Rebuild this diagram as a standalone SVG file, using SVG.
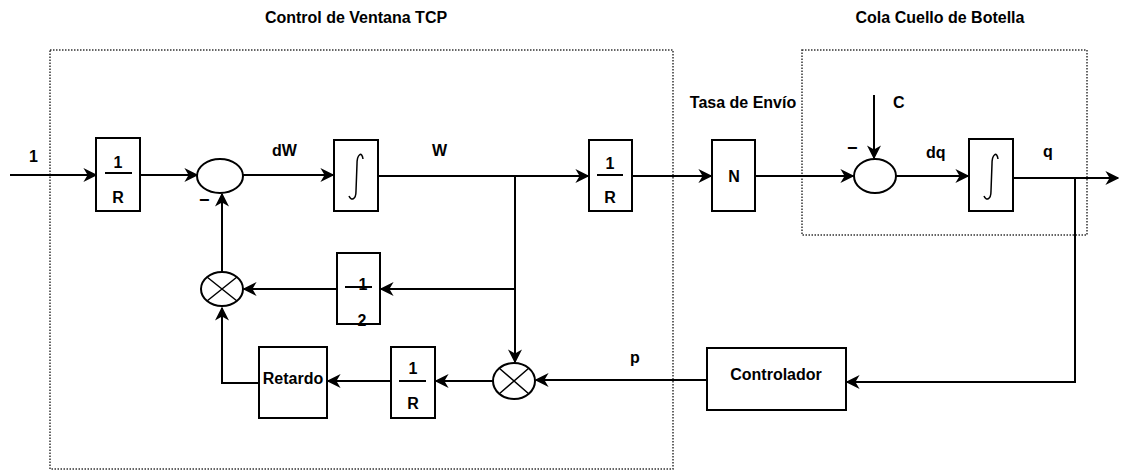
<svg xmlns="http://www.w3.org/2000/svg" width="1132" height="474" viewBox="0 0 1132 474">
<style>
text{font-family:"Liberation Sans",Arial,sans-serif;font-weight:bold;font-size:16px;fill:#000}
.b{fill:#fff;stroke:#000;stroke-width:2}
.c{fill:none;stroke:#000;stroke-width:2}
.d{fill:none;stroke:#333;stroke-width:1.5;stroke-dasharray:1.5 1.5}
.mid{text-anchor:middle}
</style>
<defs>
<marker id="ah" viewBox="0 0 10 10" refX="9" refY="5" markerWidth="7" markerHeight="7" markerUnits="strokeWidth" orient="auto">
<path d="M0,0 L10,5 L0,10 L3,5 Z" fill="#000"/>
</marker>
</defs>
<rect width="1132" height="474" fill="#fff"/>
<g id="boxes">
<rect id="tcp-region" class="d" x="50" y="50" width="623" height="419"/>
<rect id="queue-region" class="d" x="802" y="50" width="285" height="185"/>
<text class="mid" x="356" y="23">Control de Ventana TCP</text>
<text class="mid" x="940" y="23">Cola Cuello de Botella</text>
</g>
<g id="connectors" class="c" marker-end="url(#ah)">
<path d="M10,175 H96"/>
<path d="M140,175 H197"/>
<path d="M243,175 H333"/>
<path d="M378,176 H588"/>
<path d="M632,176 H711"/>
<path d="M755,176 H853"/>
<path d="M874,95 V158"/>
<path d="M896,176 H968"/>
<path d="M1013,178 H1118"/>
<path d="M1075,178 V382 H847"/>
<path d="M515,176 V362"/>
<path d="M515,289 H381"/>
<path d="M337,289 H244"/>
<path d="M707,380 H536"/>
<path d="M493,381 H436"/>
<path d="M391,381 H328"/>
<path d="M259,383 H222 V308"/>
<path d="M222,271 V194"/>
</g>
<g id="in-gain">
<rect class="b" x="96" y="138" width="44" height="73"/>
<line class="c" x1="105" y1="173" x2="132" y2="173"/>
<text class="mid" x="118" y="168">1</text>
<text class="mid" x="118" y="203">R</text>
</g>
<text x="29" y="162">1</text>
<g id="sum1">
<ellipse class="b" cx="220" cy="176" rx="23" ry="17"/>
<text x="199" y="206" style="font-size:18px">−</text>
</g>
<text x="272" y="156">dW</text>
<g id="int1">
<rect class="b" x="334" y="140" width="44" height="71"/>
<path class="c" style="stroke-width:1.5" d="M363,159 C362,151 357,154 357,164 L356,191 C356,200 351,201 349,196"/>
</g>
<text x="432" y="156">W</text>
<g id="gain2">
<rect class="b" x="589" y="140" width="43" height="71"/>
<line class="c" x1="597" y1="175" x2="623" y2="175"/>
<text class="mid" x="610" y="169">1</text>
<text class="mid" x="610" y="203">R</text>
</g>
<text class="mid" x="743" y="108">Tasa de Envío</text>
<g id="nbox">
<rect class="b" x="712" y="140" width="43" height="71"/>
<text class="mid" x="734" y="182">N</text>
</g>
<g id="sum2">
<ellipse class="b" cx="875" cy="176" rx="21" ry="17"/>
<text x="847" y="154" style="font-size:18px">−</text>
</g>
<text x="893" y="108">C</text>
<text x="926" y="158">dq</text>
<g id="int2">
<rect class="b" x="969" y="139" width="44" height="72"/>
<path class="c" style="stroke-width:1.5" d="M998,159 C997,151 992,154 992,164 L991,191 C991,200 986,201 984,196"/>
</g>
<text x="1043" y="157">q</text>
<g id="controller">
<rect class="b" x="707" y="348" width="139" height="62"/>
<text class="mid" x="776" y="380">Controlador</text>
</g>
<text x="630" y="363">p</text>
<g id="mult2">
<ellipse class="b" cx="514" cy="381" rx="21" ry="18"/>
<path class="c" style="stroke-width:1.5" d="M499,368 L529,394 M529,368 L499,394"/>
</g>
<g id="gain3">
<rect class="b" x="391" y="347" width="44" height="71"/>
<line class="c" x1="399" y1="381" x2="426" y2="381"/>
<text class="mid" x="413" y="374">1</text>
<text class="mid" x="413" y="409">R</text>
</g>
<g id="delay">
<rect class="b" x="259" y="347" width="68" height="71"/>
<text class="mid" x="293" y="384">Retardo</text>
</g>
<g id="mult1">
<ellipse class="b" cx="222" cy="289" rx="21" ry="17"/>
<path class="c" style="stroke-width:1.5" d="M207,277 L237,301 M237,277 L207,301"/>
</g>
<g id="half">
<rect class="b" x="337" y="253" width="43" height="71"/>
<line class="c" x1="345" y1="287" x2="372" y2="287"/>
<text class="mid" x="363" y="290">1</text>
<text class="mid" x="362" y="326">2</text>
</g>
</svg>
